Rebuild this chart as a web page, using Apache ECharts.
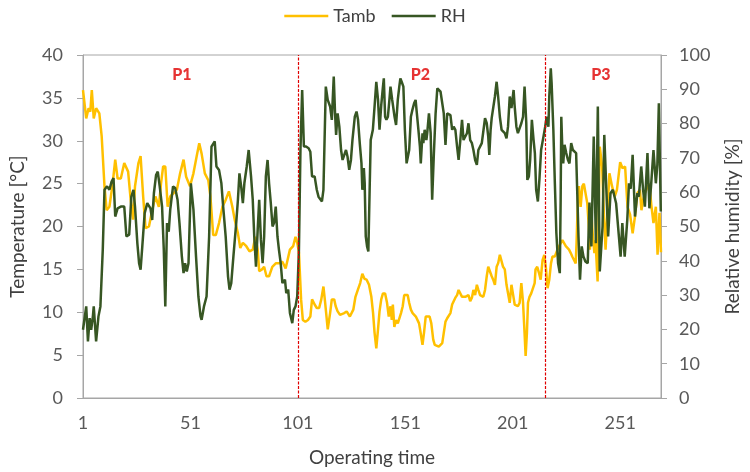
<!DOCTYPE html>
<html>
<head>
<meta charset="utf-8">
<script src="https://cdn.jsdelivr.net/npm/echarts@6/dist/echarts.min.js"></script>
<style>
html,body{margin:0;padding:0;background:#fff;}
#chart{width:750px;height:472px;}
</style>
</head>
<body>
<div id="chart"></div>
<script>
// ---- data ----
const tambTime = [1,2.5,3.6,4.4,5.1,6.0,7.1,8.6,9.7,11.0,12.0,13.3,14.8,16.0,17.1,18.6,20.2,22.0,23.2,24.3,25.2,26.8,27.8,29.0,30.1,31.7,33.2,34.7,36.3,37.3,38.3,39.3,40.4,41.6,43.2,44.7,46.2,47.8,49.0,50.8,52.4,53.9,55.1,56.2,57.7,59.3,60.3,61.6,62.8,64.3,65.9,67.4,68.9,70.5,71.6,73.1,74.2,75.4,77.0,78.5,80.0,81.2,82.3,83.0,84.3,85.3,86.4,87.6,89.1,90.7,92.2,93.8,95.3,96.1,97.3,98.8,99.9,100.7,101.5,102.5,103.3,104.5,105.7,106.8,107.6,108.8,109.8,110.9,111.9,112.9,113.7,114.9,116.0,116.8,117.9,118.6,119.5,120.6,121.4,122.6,123.7,124.4,125.2,126.0,126.8,127.8,128.9,130.0,131.0,132.0,133.0,134.1,135.2,136.0,136.7,137.5,138.3,139.0,139.8,140.6,141.6,142.5,143.3,144.1,144.7,145.2,145.9,146.7,147.5,148.2,149.0,149.8,150.5,151.3,152.1,152.8,153.6,154.4,155.1,155.9,156.7,157.4,158.2,159.0,159.7,160.5,161.2,162.3,163.1,164.0,164.7,165.6,166.6,167.4,168.2,168.9,169.7,170.5,171.2,172.0,172.8,173.5,174.3,175.1,175.8,176.6,177.4,178.1,178.9,179.7,180.4,181.2,182.0,182.7,183.5,184.3,185.0,185.8,186.6,187.3,188.1,188.9,189.6,190.4,191.2,191.9,192.7,193.5,194.2,195.0,195.8,196.5,197.3,198.1,198.8,199.6,200.4,201.2,201.9,202.7,203.4,204.2,205.0,205.8,206.5,207.0,207.6,208.1,208.8,209.6,210.4,211.2,211.6,212.4,213.2,214.0,214.9,215.7,216.5,217.2,218.0,218.8,219.5,220.6,221.8,222.6,223.4,224.1,224.9,225.7,226.4,227.2,228.0,228.7,229.5,230.3,230.7,231.3,231.8,232.6,233.4,234.1,234.9,235.7,236.4,236.9,237.7,238.3,239.0,239.5,240.5,241.5,242.6,243.3,244.2,245.0,246.0,247.2,248.5,249.5,251.0,252.1,253.3,254.4,255.6,256.8,257.9,259.0,260.2,260.9,261.7,262.5,263.5,264.6,265.5,266.5,267.6,268.4,269.3,270];
const tambValue = [35.9,32.6,33.8,33.4,35.9,32.6,33.8,33.2,30.5,24.7,21.9,22.3,25.0,27.8,25.6,25.6,27.4,26.4,23.1,20.8,24.7,27.4,28.2,23.5,19.8,20.0,21.9,23.5,22.3,25.0,27.0,27.0,22.3,23.5,23.9,24.3,26.2,27.8,25.8,24.7,26.2,28.2,29.7,28.5,26.2,25.4,23.5,19.0,19.0,20.4,22.3,23.1,24.1,22.3,20.8,19.2,17.5,18.1,17.7,17.1,17.3,18.8,17.3,14.8,15.0,15.3,14.2,14.2,15.3,15.7,15.7,15.9,15.1,15.0,17.3,17.7,18.8,18.1,17.0,11.5,9.1,8.9,9.1,9.5,11.5,10.9,10.5,10.5,11.5,13.0,11.1,8.0,9.9,11.5,11.5,10.7,10.1,9.7,9.5,9.9,10.1,9.9,9.5,9.5,10.3,11.8,12.6,13.4,14.5,13.9,13.8,13.2,11.8,9.9,7.6,5.8,8.0,10.1,11.5,12.2,12.2,11.1,9.5,10.7,9.1,10.9,8.3,9.1,8.7,8.9,9.9,10.7,12.0,12.2,12.0,11.1,10.3,9.9,9.7,9.5,9.3,8.7,7.5,6.2,7.6,9.5,9.7,9.5,8.7,6.8,6.2,6.1,6.0,5.8,6.4,7.6,8.9,9.3,9.5,9.9,10.9,11.1,11.7,12.0,12.6,12.8,11.8,12.0,11.8,11.7,12.0,11.3,11.7,12.6,12.0,13.2,12.6,12.0,12.0,11.8,12.6,14.2,15.3,15.5,14.2,13.8,13.2,15.3,15.7,16.7,16.9,15.3,15.0,13.2,13.2,11.1,13.2,12.0,10.9,10.9,10.7,11.1,13.4,11.1,7.6,4.9,7.6,11.1,11.8,12.2,12.4,13.4,15.0,15.3,14.6,13.8,16.1,16.7,15.0,12.8,13.8,15.7,16.5,16.5,17.3,17.1,18.1,18.4,18.3,17.7,17.7,17.3,16.9,16.5,16.1,15.7,18.1,23.1,24.7,22.3,24.7,25.0,24.9,22.7,20.0,17.3,21.2,18.8,16.9,18.4,13.6,29.3,27.0,22.3,17.3,21.2,26.2,24.7,23.5,24.3,27.5,26.8,27.0,22.3,21.4,19.2,21.2,23.9,24.3,21.9,23.1,23.9,24.5,25.0,22.5,20.4,22.3,16.7,21.6,17.0];

const rhTime = [1,2.5,3.3,4.1,4.8,5.6,6.0,7.1,8.2,9.1,10.2,11.0,12.2,13.3,14.3,15.2,16.0,17.1,18.6,20.2,21.2,22.5,23.5,24.5,25.2,26.3,27.1,27.8,28.6,29.7,30.9,32.4,33.2,34.0,35.0,35.8,36.7,37.8,38.6,39.3,40.1,40.9,41.6,42.9,43.9,45.0,45.9,47.0,47.8,48.5,49.3,50.1,51.2,52.4,53.6,54.7,55.7,56.2,57.3,58.5,59.7,60.8,61.6,62.3,63.1,64.3,65.4,66.1,67.4,68.5,69.2,70.0,71.0,72.3,73.1,73.8,74.6,75.4,76.1,77.2,78.1,79.2,80.0,80.7,81.5,82.3,83.0,83.8,84.6,85.3,86.1,86.9,87.6,88.4,89.2,89.9,90.7,91.5,92.2,93.0,93.8,95.0,95.6,96.5,97.3,98.4,99.1,99.9,100.7,101.5,102.2,103.0,103.8,104.8,106.0,106.8,107.6,108.8,109.8,110.6,111.4,112.2,112.9,114.0,114.9,116.0,116.8,117.7,118.3,118.8,119.5,120.3,121.1,121.8,122.6,123.4,124.1,124.9,125.7,126.4,127.5,128.3,129.0,129.8,130.6,131.0,131.7,132.1,132.6,133.2,133.8,134.4,134.9,135.9,136.7,137.5,138.3,139.0,139.8,140.6,141.0,141.6,142.2,142.9,143.6,144.1,144.9,146.0,146.7,147.5,148.2,148.7,149.3,150.1,150.8,151.6,152.0,152.8,153.6,154.3,155.1,155.8,156.3,157.1,157.8,158.2,159.0,159.4,160.0,160.8,161.2,162.0,162.8,163.5,164.3,165.1,165.9,166.6,167.4,168.2,168.9,169.7,170.5,171.2,172.0,172.8,173.5,174.3,175.1,175.8,176.6,177.4,178.1,178.9,179.7,180.4,181.2,182.0,182.7,183.5,184.3,185.0,185.8,186.6,187.3,188.1,188.9,189.6,190.1,190.7,191.2,191.9,192.7,193.5,194.2,195.0,195.8,196.5,197.3,198.1,198.8,199.6,200.4,200.8,201.4,201.9,202.7,203.4,204.2,205.0,205.8,206.5,207.3,207.8,208.5,209.1,209.9,210.7,211.3,211.9,212.7,213.4,214.2,215.3,216.1,216.8,217.6,218.0,218.7,219.1,219.9,220.6,221.3,222.1,222.9,223.3,223.6,224.1,224.5,225.1,225.9,226.7,227.4,228.2,229.0,229.7,230.5,230.9,231.6,232.3,233.1,233.9,234.8,235.9,236.7,237.6,238.7,239.7,240.6,241.5,242.8,243.6,244.5,245.4,246.5,247.6,249.1,250.0,251.2,252.0,253.1,254.3,255.1,255.9,256.8,257.9,259.0,259.7,260.8,261.7,262.5,263.7,264.6,265.5,266.5,267.6,268.3,269.0,269.9];
const rhValue = [19.9,26.7,16.5,23.3,19.9,23.8,26.7,16.5,23.8,26.7,43.2,60.7,61.7,60.7,63.1,64.1,52.9,55.3,55.8,55.8,47.1,47.6,58.7,60.7,55.8,45.1,39.3,37.4,44.2,53.9,56.8,55.3,51.9,59.7,65.0,66.0,61.7,55.8,43.2,26.7,51.0,48.5,54.9,61.7,61.2,57.8,51.0,41.3,36.4,39.3,36.9,39.3,62.6,54.9,41.3,29.6,23.8,22.8,26.7,29.6,47.1,73.3,73.8,74.8,67.5,66.5,62.6,56.8,47.1,35.4,31.6,33.5,41.3,51.0,57.8,65.5,61.7,56.8,62.6,67.5,72.3,64.6,57.8,47.1,38.3,49.0,57.8,46.1,39.3,47.1,64.6,69.4,62.6,56.8,50.0,51.0,55.8,47.1,43.2,39.3,33.5,34.5,30.6,31.6,24.8,21.8,25.7,26.7,29.6,43.2,72.3,89.8,73.3,73.3,72.8,71.8,64.6,64.6,60.7,58.7,58.3,57.3,60.7,90.8,86.9,85.0,81.1,93.7,83.0,76.7,83.0,79.1,72.3,69.4,68.9,72.3,70.4,66.5,69.4,75.2,82.0,83.5,81.1,74.3,68.4,60.7,67.0,62.6,47.1,44.2,42.7,60.7,75.2,78.2,85.0,92.2,86.9,78.2,85.4,90.8,93.2,82.0,81.1,82.0,86.9,90.8,86.9,82.0,79.6,86.9,90.8,93.2,92.2,90.8,78.2,68.4,68.0,72.3,82.0,84.0,85.9,86.9,83.5,78.2,73.3,68.4,77.2,74.3,78.2,75.2,77.2,83.0,77.2,57.8,71.4,83.0,90.3,89.8,89.3,89.8,83.0,73.8,83.0,82.5,82.5,78.2,79.1,78.2,73.3,69.4,75.2,81.1,75.2,75.7,77.2,80.1,75.2,74.3,72.3,69.4,68.0,72.3,72.8,74.3,77.7,81.6,80.1,76.2,70.9,78.2,81.6,82.0,87.9,92.2,87.9,82.0,78.2,78.6,77.2,75.7,79.1,87.9,84.5,84.0,89.8,85.0,79.1,77.2,77.2,80.1,82.0,90.8,80.1,63.6,64.6,69.4,81.1,75.2,71.4,60.7,57.3,63.6,72.3,76.2,79.1,82.0,79.1,87.9,96.1,91.7,78.2,62.6,48.1,39.3,36.4,57.8,82.0,72.3,68.4,73.8,71.4,69.4,68.4,74.3,72.3,71.8,71.4,62.6,47.1,34.5,44.2,41.3,39.8,39.3,57.0,44.2,76.2,45.1,85.0,36.9,50.0,76.7,76.2,47.1,59.7,60.7,56.8,56.8,41.2,51.0,41.2,51.9,62.6,61.0,70.9,52.9,59.7,58.7,67.5,60.5,55.8,71.4,55.3,63.0,72.3,62.6,68.0,85.9,54.4];

const xTickLabels = [1, 51, 101, 151, 201, 251];
const phaseBoundaries = [101, 216];
const phaseNames = ['P1', 'P2', 'P3'];
const phaseLabelTime = [47, 158, 242];
const phaseLabelTemp = [37.7, 37.7, 37.7];

// ---- chart ----
const pair = (xs, ys) => xs.map((x, i) => [x, ys[i]]);
const FONT = 'Lato';
const GRAY = '#a6a6a6';
const RED = '#e00000';
const chart = echarts.init(document.getElementById('chart'), null, {renderer: 'canvas'});
chart.setOption({
  animation: false,
  textStyle: {fontFamily: FONT},
  legend: {
    data: ['Tamb', 'RH'],
    top: 2,
    left: 'center',
    icon: 'rect',
    itemWidth: 44,
    itemHeight: 2.5,
    itemGap: 16,
    textStyle: {fontFamily: FONT, fontSize: 18, color: '#404040'}
  },
  grid: {left: 82, right: 84, top: 55, bottom: 74, show: true, borderColor: GRAY, borderWidth: 1},
  xAxis: {
    type: 'value', min: 1, max: 270,
    name: 'Operating time', nameLocation: 'middle', nameGap: 50,
    nameTextStyle: {fontFamily: FONT, fontSize: 19, color: '#404040'},
    axisLine: {show: true, lineStyle: {color: GRAY}},
    axisTick: {show: false},
    splitLine: {show: false},
    axisLabel: {customValues: xTickLabels, fontFamily: FONT, fontSize: 18, color: '#595959', margin: 16}
  },
  yAxis: [{
    type: 'value', min: 0, max: 40, interval: 5,
    name: 'Temperature [°C]', nameLocation: 'middle', nameGap: 56, nameRotate: 90,
    nameTextStyle: {fontFamily: FONT, fontSize: 19, color: '#404040'},
    axisLine: {show: true, lineStyle: {color: GRAY}},
    axisTick: {show: true, length: 6, lineStyle: {color: GRAY}},
    splitLine: {show: false},
    axisLabel: {fontFamily: FONT, fontSize: 18, color: '#595959', margin: 20}
  }, {
    type: 'value', min: 0, max: 100, interval: 10, position: 'right',
    name: 'Relative humidity [%]', nameLocation: 'middle', nameGap: 62, nameRotate: 90,
    nameTextStyle: {fontFamily: FONT, fontSize: 19, color: '#404040'},
    axisLine: {show: true, lineStyle: {color: GRAY}},
    axisTick: {show: true, length: 6, lineStyle: {color: GRAY}},
    splitLine: {show: false},
    axisLabel: {fontFamily: FONT, fontSize: 18, color: '#595959', margin: 18}
  }],
  series: [{
    name: 'Tamb', type: 'line', yAxisIndex: 0,
    data: pair(tambTime, tambValue),
    showSymbol: false, symbol: 'none',
    lineStyle: {color: '#FFC000', width: 2.5},
    itemStyle: {color: '#FFC000'},
    z: 2
  }, {
    name: 'RH', type: 'line', yAxisIndex: 1,
    data: pair(rhTime, rhValue),
    showSymbol: false, symbol: 'none',
    lineStyle: {color: '#375623', width: 2.5},
    itemStyle: {color: '#375623'},
    z: 3
  }, {
    name: 'phases', type: 'scatter', yAxisIndex: 0, silent: true, z: 5,
    symbolSize: 1, itemStyle: {color: 'rgba(0,0,0,0)'},
    data: phaseNames.map((n, i) => [phaseLabelTime[i], phaseLabelTemp[i], n]),
    label: {show: true, position: 'inside', formatter: p => p.value[2],
      fontFamily: FONT, fontSize: 16, fontWeight: 900, color: RED},
    markLine: {
      silent: true, symbol: ['none', 'none'],
      label: {show: false},
      emphasis: {disabled: true},
      itemStyle: {color: RED},
      lineStyle: {color: RED, width: 1.2, type: [3, 1.5], opacity: 1},
      data: phaseBoundaries.map(b => ({xAxis: b, lineStyle: {color: RED, width: 1.2, type: [3, 1.5]}}))
    }
  }]
});
</script>
</body>
</html>
